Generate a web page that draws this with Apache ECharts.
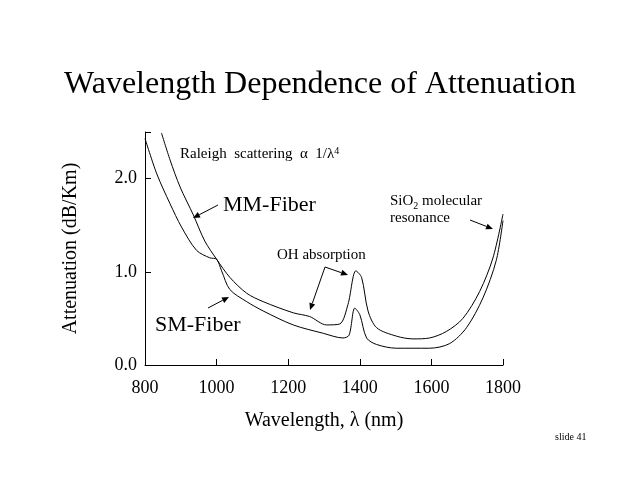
<!DOCTYPE html>
<html><head><meta charset="utf-8">
<script src="https://cdn.jsdelivr.net/npm/echarts@6/dist/echarts.min.js"></script>
<style>html,body{margin:0;padding:0;background:#fff}#c{width:640px;height:480px}</style>
</head><body><div id="c"></div>
<script>
const xTicks = [800, 1000, 1200, 1400, 1600, 1800];
const yTicks = [0, 1, 2];
const mmFiber = [[846,2.49],[870,2.2],[898,1.91],[935,1.61],[967,1.33],[1000,1.135],[1037,0.94],[1084,0.77],[1130,0.68],[1214,0.56],[1260,0.52],[1307,0.43],[1344,0.44],[1367,0.65],[1389,1.01],[1405,0.94],[1423,0.58],[1447,0.40],[1502,0.31],[1549,0.28],[1595,0.29],[1642,0.36],[1688,0.50],[1735,0.79],[1772,1.15],[1800,1.62]];
const smFiber = [[800,2.43],[833,2.05],[870,1.73],[902,1.48],[944,1.23],[981,1.15],[1000,1.135],[1014,1.01],[1037,0.81],[1084,0.68],[1130,0.58],[1214,0.43],[1298,0.34],[1353,0.29],[1370,0.32],[1386,0.61],[1400,0.54],[1419,0.29],[1447,0.22],[1502,0.18],[1595,0.18],[1651,0.23],[1698,0.40],[1744,0.72],[1781,1.12],[1800,1.55]];

const F = 'Liberation Serif, Times New Roman, serif';
function arrow(x1,y1,x2,y2){
  const a=Math.atan2(y2-y1,x2-x1), L=7, W=3;
  const bx=x2-L*Math.cos(a), by=y2-L*Math.sin(a);
  return [
    {type:'line',shape:{x1,y1,x2:bx,y2:by},style:{stroke:'#000',lineWidth:1}},
    {type:'polygon',shape:{points:[[x2,y2],[bx+W*Math.sin(a),by-W*Math.cos(a)],[bx-W*Math.sin(a),by+W*Math.cos(a)]]},style:{fill:'#000'}}
  ];
}
const txt=(x,y,t,s)=>({type:'text',x,y,style:{text:t,font:s+'px '+F,fill:'#000'}});
const chart = echarts.init(document.getElementById('c'));
chart.setOption({
  animation:false,
  title:{text:'Wavelength Dependence of Attenuation',left:'center',top:64,textStyle:{fontFamily:F,fontSize:32,fontWeight:'normal',color:'#000'}},
  grid:{left:145,right:137,top:132,bottom:115},
  xAxis:{type:'value',min:800,max:1800,interval:200,
    name:'Wavelength, λ (nm)',nameLocation:'middle',nameGap:46,nameTextStyle:{fontFamily:F,fontSize:20,color:'#000'},
    axisLine:{lineStyle:{color:'#000'}},axisTick:{inside:true,length:6,lineStyle:{color:'#000'}},
    axisLabel:{fontFamily:F,fontSize:18,color:'#000',margin:14,formatter:v=>String(v)},splitLine:{show:false}},
  yAxis:{type:'value',min:0,max:2.5,interval:1,
    name:'Attenuation (dB/Km)',nameLocation:'middle',nameGap:64,nameTextStyle:{fontFamily:F,fontSize:20,color:'#000'},
    axisLine:{show:true,lineStyle:{color:'#000'}},axisTick:{inside:true,length:6,lineStyle:{color:'#000'}},
    axisLabel:{fontFamily:F,fontSize:18,color:'#000',margin:8,formatter:v=>yTicks.includes(v)?v.toFixed(1):''},splitLine:{show:false}},
  series:[
    {name:'MM-Fiber',type:'line',data:mmFiber,smooth:0.3,symbol:'none',lineStyle:{color:'#000',width:1}},
    {name:'SM-Fiber',type:'line',data:smFiber,smooth:0.3,symbol:'none',lineStyle:{color:'#000',width:1}}
  ],
  graphic:[
    {type:'text',x:180,y:146,style:{rich:{n:{font:'15px '+F,fill:'#000'},s:{font:'10px '+F,fill:'#000',padding:[0,0,7,0]}},text:'{n|Raleigh  scattering  α  1/λ}{s|4}'}},
    txt(223,194,'MM-Fiber',22),
    txt(155,314,'SM-Fiber',22),
    txt(277,248,'OH absorption',15),
    {type:'text',x:390,y:192,style:{rich:{n:{font:'15px '+F,fill:'#000'},s:{font:'10px '+F,fill:'#000',padding:[9,0,0,0]}},text:'{n|SiO}{s|2}{n| molecular}'}},
    txt(390,211,'resonance',15),
    ...arrow(218,205,193,218),
    ...arrow(208,308,229,297),
    ...arrow(325,267,310,310),
    ...arrow(325,267,348,275),
    ...arrow(470,220,493,229),
    txt(555,432,'slide 41',10)
  ]
});
</script></body></html>
